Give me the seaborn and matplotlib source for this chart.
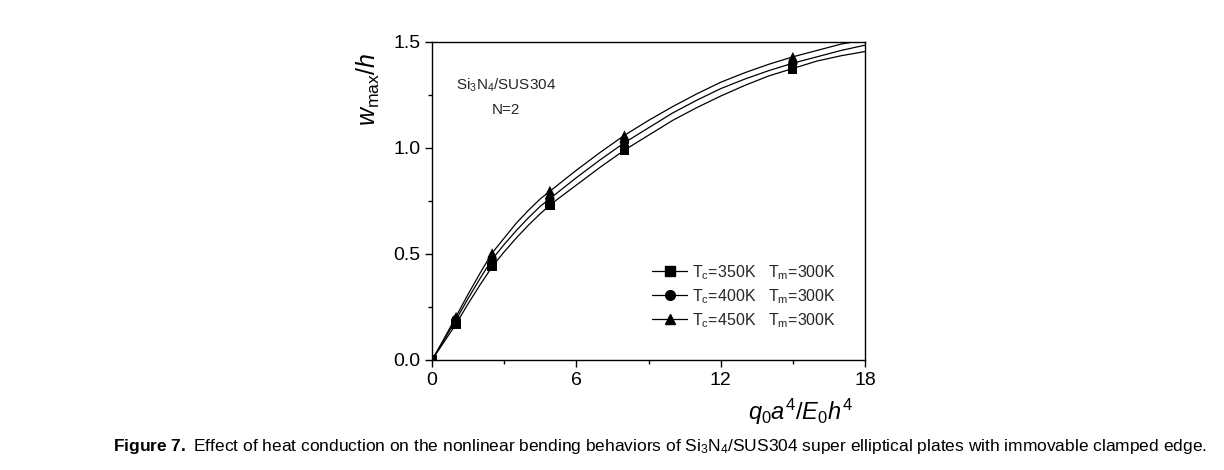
import numpy as np
import pandas as pd
import matplotlib
matplotlib.use("Agg")
import matplotlib.pyplot as plt
from matplotlib.lines import Line2D
from matplotlib.ticker import MultipleLocator
import seaborn as sns

# ---- data ----
curve_x = [0, 0.5, 1, 1.5, 2, 2.5, 3, 3.5, 4, 4.5, 5, 6, 7, 8, 9, 10, 11, 12, 13, 14, 15, 16, 17, 18]
curve_350 = [0, 0.085, 0.17, 0.265, 0.355, 0.44, 0.51, 0.575, 0.635, 0.69, 0.74, 0.825, 0.91, 0.99,
             1.06, 1.13, 1.19, 1.245, 1.295, 1.34, 1.375, 1.41, 1.435, 1.455]
curve_400 = [0, 0.095, 0.19, 0.29, 0.385, 0.475, 0.545, 0.61, 0.67, 0.725, 0.77, 0.86, 0.945, 1.025,
             1.095, 1.165, 1.225, 1.28, 1.325, 1.365, 1.40, 1.43, 1.46, 1.485]
curve_450 = [0, 0.10, 0.205, 0.31, 0.41, 0.505, 0.575, 0.645, 0.705, 0.76, 0.805, 0.895, 0.98, 1.06,
             1.13, 1.195, 1.255, 1.31, 1.355, 1.395, 1.43, 1.46, 1.49, 1.51]

marker_x = [0, 1, 2.5, 4.9, 8, 15]
marker_350 = [0, 0.17, 0.44, 0.73, 0.99, 1.372]
marker_400 = [0, 0.19, 0.475, 0.76, 1.027, 1.40]
marker_450 = [0, 0.205, 0.505, 0.80, 1.061, 1.431]

series_labels = [r"T$_\mathrm{c}$=350K   T$_\mathrm{m}$=300K",
                 r"T$_\mathrm{c}$=400K   T$_\mathrm{m}$=300K",
                 r"T$_\mathrm{c}$=450K   T$_\mathrm{m}$=300K"]
series_markers = ["s", "o", "^"]
x_ticks = [0, 6, 12, 18]
y_ticks = [0.0, 0.5, 1.0, 1.5]
x_tick_labels = ["0", "6", "12", "18"]
y_tick_labels = ["0.0", "0.5", "1.0", "1.5"]

sns.set_theme(style="ticks")
plt.rcParams["font.family"] = ["Liberation Sans", "DejaVu Sans"]
plt.rcParams["mathtext.fontset"] = "custom"
plt.rcParams["mathtext.rm"] = "Liberation Sans"
plt.rcParams["mathtext.it"] = "Liberation Sans:italic"
plt.rcParams["mathtext.bf"] = "Liberation Sans:bold"

curves_df = pd.DataFrame({
    "x": curve_x * 3,
    "y": curve_350 + curve_400 + curve_450,
    "series": [series_labels[0]] * len(curve_x) + [series_labels[1]] * len(curve_x) + [series_labels[2]] * len(curve_x),
})
markers_df = pd.DataFrame({
    "x": marker_x * 3,
    "y": marker_350 + marker_400 + marker_450,
    "series": [series_labels[0]] * len(marker_x) + [series_labels[1]] * len(marker_x) + [series_labels[2]] * len(marker_x),
})

fig = plt.figure(figsize=(12.24, 4.70), dpi=100)
ax = fig.add_axes([432 / 1224, 110 / 470, 433 / 1224, 318 / 470])

sns.lineplot(data=curves_df, x="x", y="y", hue="series", palette=["black"] * 3,
             linewidth=0.9, legend=False, ax=ax, sort=True)
sns.scatterplot(data=markers_df, x="x", y="y", style="series", markers=dict(zip(series_labels, series_markers)),
                color="black", s=45, edgecolor="black", linewidth=0, legend=False, ax=ax, zorder=3)

ax.set_xlim(0, 18)
ax.set_ylim(0, 1.5)
ax.set_xticks(x_ticks)
ax.set_xticklabels(x_tick_labels)
ax.set_yticks(y_ticks)
ax.set_yticklabels(y_tick_labels)
ax.xaxis.set_minor_locator(MultipleLocator(3))
ax.yaxis.set_minor_locator(MultipleLocator(0.25))
ax.tick_params(which="major", direction="out", length=5, width=1, labelsize=14, color="black", labelcolor="black")
ax.tick_params(which="minor", direction="out", length=3, width=1, color="black")
for sp in ax.spines.values():
    sp.set_visible(True)
    sp.set_color("black")
    sp.set_linewidth(1.0)

ax.set_xlabel(r"$q_0a^4/E_0h^4$", fontsize=17, color="black")
ax.xaxis.set_label_coords(0.85, -0.115)
ax.set_ylabel(r"$w_\mathrm{max}/h$", fontsize=18, color="black")
ax.yaxis.set_label_coords(-0.115, 0.85)

ax.text(0.17, 0.865, r"Si$_3$N$_4$/SUS304", transform=ax.transAxes, ha="center", va="center", fontsize=11)
ax.text(0.17, 0.787, "N=2", transform=ax.transAxes, ha="center", va="center", fontsize=11)

handles = [Line2D([0], [0], color="black", lw=0.9, marker=m, markersize=7) for m in series_markers]
ax.legend(handles, series_labels, loc="upper left", bbox_to_anchor=(0.49, 0.33), frameon=False,
          fontsize=11.5, handlelength=2.2, handletextpad=0.3, labelspacing=0.33, borderpad=0)

fig.text(113 / 1224, 1 - 447 / 470,
         r"$\mathbf{Figure\ 7.}$ Effect of heat conduction on the nonlinear bending behaviors of Si$_3$N$_4$/SUS304 super elliptical plates with immovable clamped edge.",
         fontsize=12.5, ha="left", va="center", color="black")

fig.savefig("out.png", dpi=100, facecolor="white")
